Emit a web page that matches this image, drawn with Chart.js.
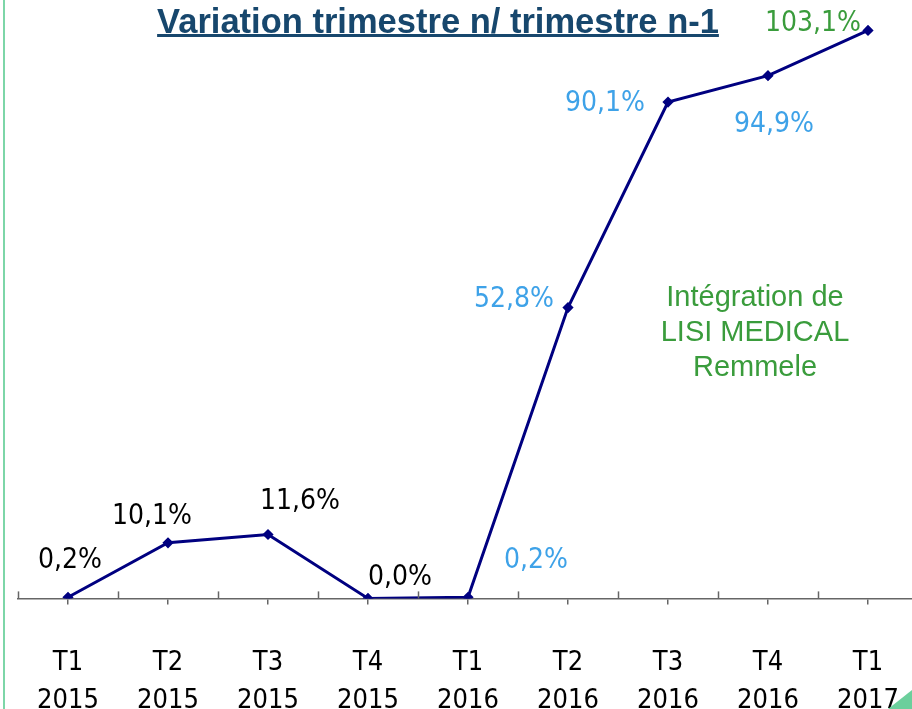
<!DOCTYPE html>
<html>
<head>
<meta charset="utf-8">
<script src="https://cdn.jsdelivr.net/npm/chart.js@4"></script>
<style>
  html, body { margin: 0; padding: 0; background: #fff; }
  #wrap { position: relative; width: 912px; height: 709px; overflow: hidden; }
  #chart { position: absolute; left: 0; top: 0; }
  #title {
    position: absolute; left: 0; width: 876px; top: 2px; text-align: center;
    font: bold 34.5px "Liberation Sans", Arial, sans-serif; color: #17476d;
    text-decoration: underline; text-decoration-thickness: 3px; text-underline-offset: 1px;
  }
  #note {
    position: absolute; left: 635px; width: 240px; top: 279px; text-align: center;
    font: 29px/35px "Liberation Sans", Arial, sans-serif; color: #3a9c3c;
  }
  #edge { position: absolute; left: 3px; top: 0; width: 2px; height: 709px; background: #7dd6a8; }
  #corner { position: absolute; left: 888px; top: 690px; width: 24px; height: 19px; background: #6ccf9c;
    clip-path: polygon(0 100%, 100% 0, 100% 100%); }
</style>
</head>
<body>
<div id="wrap">
  <canvas id="chart" width="930" height="760"></canvas>
  <div id="edge"></div>
  <div id="title">Variation trimestre n/ trimestre n-1</div>
  <div id="note">Intégration de<br>LISI MEDICAL<br>Remmele</div>
  <div id="corner"></div>
</div>
<script>
const quarters = [["T1", "2015"], ["T2", "2015"], ["T3", "2015"], ["T4", "2015"], ["T1", "2016"], ["T2", "2016"], ["T3", "2016"], ["T4", "2016"], ["T1", "2017"]];
const variation = [0.2, 10.1, 11.6, 0.0, 0.2, 52.8, 90.1, 94.9, 103.1];

// label placement relative to each point, and its colour
const labelOffsets = [[2, -37], [-16, -26], [32, -33], [32, -21], [68, -37], [-54, -8], [-63, 2], [6, 49], [-55, -7]];
const labelColors = ["#000", "#000", "#000", "#000", "#3ea2e8", "#3ea2e8", "#3ea2e8", "#3ea2e8", "#3a9c3c"];

const labelFont = '28px "DejaVu Sans Condensed", "DejaVu Sans", sans-serif';

const pointLabels = {
  id: "pointLabels",
  afterDatasetsDraw(chart) {
    const ctx = chart.ctx;
    const meta = chart.getDatasetMeta(0);
    ctx.save();
    ctx.font = labelFont;
    ctx.textAlign = "center";
    ctx.textBaseline = "middle";
    meta.data.forEach((pt, i) => {
      ctx.fillStyle = labelColors[i];
      const txt = variation[i].toFixed(1).replace(".", ",") + "%";
      ctx.fillText(txt, pt.x + labelOffsets[i][0], pt.y + labelOffsets[i][1]);
    });
    ctx.restore();
  }
};

// short marks above the axis, between categories
const boundaryTicks = {
  id: "boundaryTicks",
  afterDraw(chart) {
    const x = chart.scales.x;
    const ctx = chart.ctx;
    const y0 = chart.chartArea.bottom;
    const half = (x.getPixelForValue(1) - x.getPixelForValue(0)) / 2;
    ctx.save();
    ctx.strokeStyle = "#666";
    ctx.lineWidth = 1.5;
    for (let i = 0; i <= quarters.length; i++) {
      const px = Math.round(x.getPixelForValue(i) - half) + 0.5;
      ctx.beginPath();
      ctx.moveTo(px, y0);
      ctx.lineTo(px, y0 - 7);
      ctx.stroke();
    }
    ctx.restore();
  }
};

new Chart(document.getElementById("chart").getContext("2d"), {
  type: "line",
  data: {
    labels: quarters,
    datasets: [{
      data: variation,
      borderColor: "#000080",
      backgroundColor: "#000080",
      borderWidth: 3,
      pointStyle: "rectRot",
      pointRadius: 3.5,
      tension: 0,
      fill: false
    }]
  },
  plugins: [pointLabels, boundaryTicks],
  options: {
    responsive: false,
    animation: false,
    events: [],
    layout: { autoPadding: false, padding: { left: 18, right: 12, top: 20, bottom: 0 } },
    plugins: { legend: { display: false }, tooltip: { enabled: false }, title: { display: false } },
    scales: {
      x: {
        type: "category",
        offset: true,
        // tick padding also widens the side paddings, drop those
        afterFit(scale) { scale.paddingLeft = 0; scale.paddingRight = 0; },
        grid: { display: true, drawOnChartArea: false, drawTicks: true, tickLength: 6, offset: false, color: "#666", lineWidth: 1.5 },
        border: { display: true, color: "#666", width: 1.5 },
        ticks: {
          color: "#000",
          padding: 40,
          maxRotation: 0,
          autoSkip: false,
          font: { family: '"DejaVu Sans Condensed", "DejaVu Sans", sans-serif', size: 27, lineHeight: 1.4 }
        }
      },
      y: { display: false, min: 0, max: 105 }
    }
  }
});
</script>
</body>
</html>
